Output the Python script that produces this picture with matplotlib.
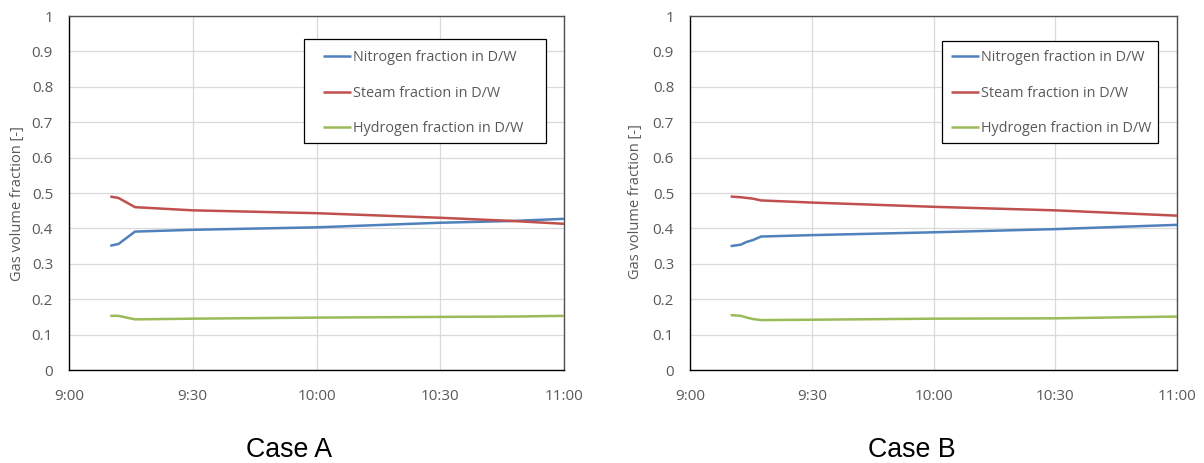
import matplotlib
matplotlib.use("Agg")
import matplotlib.pyplot as plt
from matplotlib.patches import Rectangle

plt.rcParams['font.family'] = ['Open Sans', 'DejaVu Sans']

# ---- data (minutes after 9:00) ----
series_names = ["Nitrogen fraction in D/W", "Steam fraction in D/W", "Hydrogen fraction in D/W"]

minutes_a = [10, 12, 16, 30, 60, 90, 107.5, 120]
nitrogen_a = [0.351, 0.356, 0.391, 0.396, 0.403, 0.416, 0.421, 0.427]
steam_a = [0.490, 0.486, 0.460, 0.451, 0.443, 0.430, 0.421, 0.413]
hydrogen_a = [0.153, 0.153, 0.143, 0.145, 0.148, 0.150, 0.151, 0.153]

minutes_b = [10, 12.5, 14, 15.5, 17.5, 30, 60, 90, 120]
nitrogen_b = [0.350, 0.354, 0.362, 0.367, 0.377, 0.381, 0.389, 0.398, 0.410]
steam_b = [0.490, 0.488, 0.486, 0.484, 0.479, 0.473, 0.461, 0.451, 0.436]
hydrogen_b = [0.155, 0.153, 0.148, 0.144, 0.141, 0.142, 0.145, 0.146, 0.151]

x_tick_minutes = [0, 30, 60, 90, 120]
x_tick_labels = ["9:00", "9:30", "10:00", "10:30", "11:00"]
y_ticks = [0, 0.1, 0.2, 0.3, 0.4, 0.5, 0.6, 0.7, 0.8, 0.9, 1.0]
y_tick_labels = ["0", "0.1", "0.2", "0.3", "0.4", "0.5", "0.6", "0.7", "0.8", "0.9", "1"]
case_titles = ["Case A", "Case B"]
y_label = "Gas volume fraction [-]"

colors = ["#4F81BD", "#C0504D", "#9BBB59"]
tick_color = "#595959"
grid_color = "#D9D9D9"

fig = plt.figure(figsize=(12.04, 4.63), dpi=100)
W, H = 1204, 463

def px_axes(l, t, r, b):
    return fig.add_axes([l / W, 1 - b / H, (r - l) / W, (b - t) / H])

ax_a = px_axes(69, 16, 564, 370)
ax_b = px_axes(690, 16, 1177, 370)

# (axes, x, series, ylabel coords, legend anchor, legend box [x0, y0, x1, y1], title x)
panels = [
    (ax_a, minutes_a, [nitrogen_a, steam_a, hydrogen_a], (-0.089, 0.469),
     (0.5125, 0.782), (0.4747, 0.641, 0.9636, 0.935), 0.240),
    (ax_b, minutes_b, [nitrogen_b, steam_b, hydrogen_b], (-0.0965, 0.477),
     (0.5353, 0.782), (0.518, 0.640, 0.9616, 0.930), 0.7575),
]

for ax, mins, ys, lab_xy, leg_anchor, box, title_x in panels:
    for y, c, name in zip(ys, colors, series_names):
        ax.plot(mins, y, color=c, lw=1.8, label=name, solid_capstyle='butt', zorder=3)
    ax.set_xlim(0, 120)
    ax.set_ylim(0, 1)
    ax.set_xticks(x_tick_minutes)
    ax.set_xticklabels(x_tick_labels)
    ax.set_yticks(y_ticks)
    ax.set_yticklabels(y_tick_labels)
    ax.tick_params(axis='both', length=0, labelsize=11, colors=tick_color)
    ax.tick_params(axis='y', pad=11.5)
    ax.tick_params(axis='x', pad=14)
    ax.grid(True, color=grid_color, lw=0.9, zorder=0)
    ax.set_axisbelow(True)
    for s in ['left', 'bottom']:
        ax.spines[s].set_color('black')
        ax.spines[s].set_linewidth(1.0)
    for s in ['top', 'right']:
        ax.spines[s].set_color('#505050')
        ax.spines[s].set_linewidth(1.0)
    ax.set_ylabel(y_label, fontsize=10.5, color=tick_color)
    ax.yaxis.set_label_coords(*lab_xy)
    # legend frame
    x0, y0, x1, y1 = box
    ax.add_patch(Rectangle((x0, y0), x1 - x0, y1 - y0, transform=ax.transAxes,
                           facecolor='white', edgecolor='black', lw=0.9, zorder=4))
    leg = ax.legend(loc='center left', bbox_to_anchor=leg_anchor,
                    fontsize=10.4, frameon=False,
                    handlelength=1.94, handletextpad=0.16, labelspacing=1.42, borderpad=0,
                    borderaxespad=0)
    leg.set_zorder(5)
    for t in leg.get_texts():
        t.set_color(tick_color)

fig.text(0.240, 1 - 450 / H, case_titles[0], fontsize=19.3, family='Liberation Sans', ha='center', va='center')
fig.text(0.7575, 1 - 450 / H, case_titles[1], fontsize=19.3, family='Liberation Sans', ha='center', va='center')

fig.savefig("out.png", dpi=100)
